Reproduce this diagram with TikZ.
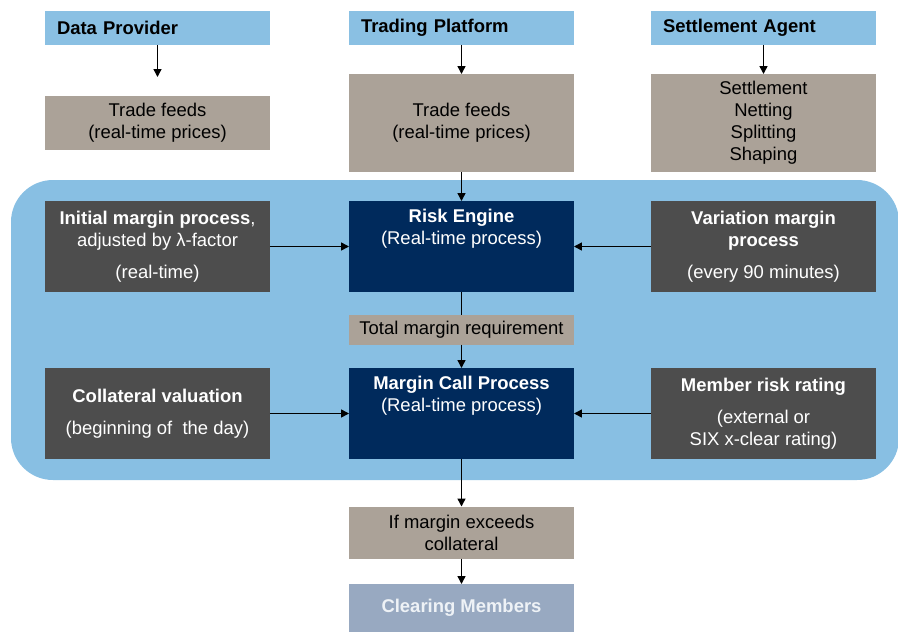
\documentclass[tikz,border=0pt]{standalone}
\usepackage{fontspec}
\setmainfont{Liberation Sans}
\usetikzlibrary{arrows.meta}

\definecolor{headblue}{HTML}{8AC0E3}
\definecolor{areablue}{HTML}{88BFE3}
\definecolor{taupe}{HTML}{ABA298}
\definecolor{darkgrey}{HTML}{4D4D4D}
\definecolor{navy}{HTML}{002A5C}
\definecolor{slate}{HTML}{98A9C1}
\definecolor{paletext}{HTML}{EEF2F6}

\tikzset{
    box/.style={inner sep=0pt, outer sep=0pt, minimum width=4.5cm, align=center, font=\fontsize{10.5}{12.5}\selectfont},
    headbox/.style={box, fill=headblue, text width=4.02cm, inner xsep=0.24cm, align=left, minimum height=0.68cm, font=\fontsize{10.5}{12.5}\selectfont\bfseries},
    feedbox/.style={box, fill=taupe},
    procbox/.style={box, fill=darkgrey, text=white, minimum height=1.82cm},
    enginebox/.style={box, fill=navy, text=white, minimum height=1.82cm},
    link/.style={line width=0.8pt},
    >={Triangle[length=4.5pt,width=4.5pt]}
}

\begin{document}
\begin{tikzpicture}[x=0.02cm, y=-0.02cm]
        \useasboundingbox (0,0) rectangle (898,632);
        \fill [areablue, rounded corners=0.84cm] (11,180) rectangle (899,480);

        \node[headbox] (dataprov) at (157.5,28) {Data Provider};
        \node[headbox] (tradeplat) at (461.5,28) {Trading Platform};
        \node[headbox] (settleagent) at (763.5,28) {Settlement Agent};

        \node[feedbox, minimum height=1.08cm] (feedsleft) at (157.5,123) {Trade feeds\\(real-time prices)};
        \node[feedbox, minimum height=1.96cm] (feedsmid) at (461.5,123) {Trade feeds\\(real-time prices)};
        \node[feedbox, minimum height=1.96cm] (settlebox) at (763.5,123) {Settlement\\Netting\\Splitting\\Shaping};

        \node[procbox] (initmargin) at (157.5,246.5) {\textbf{Initial margin process},\\adjusted by λ-factor\\[5.7pt](real-time)};
        \node[enginebox] (riskengine) at (461.5,246.5) {\textbf{Risk Engine}\\(Real-time process)\\[5.7pt]\strut};
        \node[procbox] (varmargin) at (763.5,246.5) {\textbf{Variation margin}\\\textbf{process}\\[5.7pt](every 90 minutes)};

        \node[feedbox, minimum height=0.6cm] (totalmargin) at (461.5,329.5) {Total margin requirement};

        \node[procbox] (collateral) at (157.5,413.5) {\textbf{Collateral valuation}\\[5.7pt](beginning of\ \ the day)};
        \node[enginebox] (margincall) at (461.5,413.5) {\textbf{Margin Call Process}\\(Real-time process)\\[5.7pt]\strut};
        \node[procbox] (memberrating) at (763.5,413.5) {\textbf{Member risk rating}\\[5.7pt](external or\\SIX x-clear rating)};

        \node[feedbox, minimum height=1.04cm] (ifmargin) at (461.5,532.5) {If margin exceeds\\collateral};
        \node[box, fill=slate, text=paletext, minimum height=0.96cm, font=\fontsize{10.5}{12.5}\selectfont\bfseries] (clearing) at (461.5,608) {Clearing Members};

        \coordinate (dpend) at (157.5,77);
        \draw[link, ->] (dataprov) -- (dpend);
        \draw[link, ->] (tradeplat) -- (feedsmid);
        \draw[link, ->] (settleagent) -- (settlebox);
        \draw[link, ->] (feedsmid) -- (riskengine);
        \draw[link, ->] (initmargin) -- (riskengine);
        \draw[link, ->] (varmargin) -- (riskengine);
        \draw[link] (riskengine) -- (totalmargin);
        \draw[link, ->] (totalmargin) -- (margincall);
        \draw[link, ->] (collateral) -- (margincall);
        \draw[link, ->] (memberrating) -- (margincall);
        \draw[link, ->] (margincall) -- (ifmargin);
        \draw[link, ->] (ifmargin) -- (clearing);
\end{tikzpicture}
\end{document}
